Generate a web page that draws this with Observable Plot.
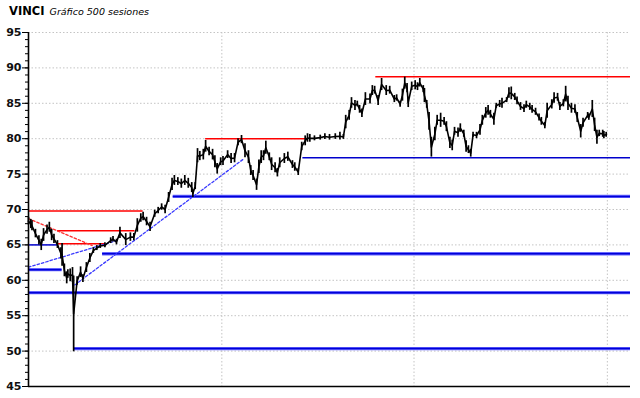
<!DOCTYPE html>
<html>
<head>
<meta charset="utf-8">
<script src="https://cdn.jsdelivr.net/npm/d3@7"></script>
<script src="https://cdn.jsdelivr.net/npm/@observablehq/plot@0.6"></script>
<style>
  html, body { margin: 0; padding: 0; background: #fff; }
  #wrap { position: relative; width: 640px; height: 398px; }
  #title { position: absolute; left: 9px; top: 4px; line-height: 12px; font-family: "DejaVu Sans", sans-serif; color: #000; white-space: nowrap; }
  #title b { font-size: 11.5px; font-weight: bold; }
  #title i { font-size: 9.5px; font-style: italic; margin-left: 5px; }
</style>
</head>
<body>
<div id="wrap"><div id="title"><b>VINCI</b><i>Gráfico 500 sesiones</i></div></div>
<script>
// Sampled sessions (day index, 0..499) with low / high prices
const sessions = [
  0,2,3,6,9,11,13,16,18,20,
  22,25,28,29,31,33,34,36,38,39,
  42,45,47,50,53,56,59,62,66,71,
  73,76,79,84,88,91,94,97,99,102,
  105,109,112,115,118,121,124,126,129,132,
  135,138,141,142,144,146,148,151,153,156,
  159,161,163,166,168,172,175,178,181,184,
  187,190,192,194,197,199,201,203,205,208,
  210,213,215,217,221,224,228,230,233,236,
  239,241,243,247,252,256,260,265,269,272,
  274,277,279,282,284,286,288,291,295,297,
  299,302,305,309,312,316,318,321,323,325,
  327,328,331,334,336,338,341,342,344,346,
  348,351,353,356,359,361,364,366,368,371,
  373,376,378,380,382,384,387,390,392,395,
  397,399,402,404,407,409,413,415,417,420,
  422,425,428,430,433,435,438,441,443,446,
  448,452,454,457,459,462,464,466,469,472,
  474,477,479,483,484,487,489,491,493,496,
  497,499
];
const lows = [
  67.8,67.3,67.0,66.0,65.0,64.2,65.5,66.5,66.8,65.6,
  65.2,64.5,63.0,62.0,60.5,59.5,60.3,59.8,59.7,49.9,
  59.3,60.4,59.7,61.1,62.5,63.8,64.2,64.5,64.6,65.2,
  65.4,65.0,65.9,64.9,65.5,65.6,66.8,68.2,68.4,67.7,
  66.9,68.9,69.4,69.9,69.4,71.0,72.7,73.4,73.4,73.0,
  73.4,73.0,72.4,71.7,72.8,76.6,76.9,77.0,78.1,77.6,
  77.0,75.9,75.0,76.2,76.2,77.2,76.5,76.6,79.0,79.3,
  77.3,76.5,74.8,74.1,72.7,75.1,76.5,76.9,77.8,76.9,
  75.5,75.2,74.6,75.9,76.5,76.8,75.8,75.4,74.8,78.3,
  79.0,79.5,79.5,79.7,79.8,79.9,79.8,79.9,79.8,79.9,
  81.4,82.6,84.3,84.0,84.5,83.6,83.0,84.7,84.9,86.1,
  86.3,84.7,86.8,86.1,86.3,85.1,85.3,84.45,85.3,87.0,
  86.5,84.4,86.8,86.9,86.8,87.3,86.5,85.1,84.3,81.2,
  77.4,79.7,81.9,81.6,81.9,81.0,78.6,78.3,80.5,80.2,
  80.9,80.2,78.1,77.9,77.4,80.2,80.0,80.5,81.9,82.9,
  83.3,82.9,81.9,84.3,84.4,84.3,85.1,85.7,85.5,85.4,
  84.8,84.0,83.7,84.3,84.0,83.6,83.3,82.5,81.9,81.4,
  82.9,84.2,85.0,85.3,84.0,84.5,85.2,84.0,83.6,83.6,
  82.3,80.1,81.6,82.9,82.6,83.0,81.0,79.2,80.3,80.2,
  80.0,80.2
];
const highs = [
  68.9,68.6,68.4,67.2,66.3,65.8,67.3,67.8,68.2,67.2,
  66.5,65.6,64.6,65.2,62.3,61.2,61.5,61.6,61.8,60.6,
  60.5,61.9,60.8,62.5,63.8,64.6,64.9,65.2,65.3,66.0,
  66.2,65.8,67.5,66.6,66.7,66.6,68.7,69.4,69.6,68.9,
  68.2,69.9,70.3,70.8,70.6,72.4,74.4,74.8,74.5,74.3,
  74.8,74.4,73.8,72.8,73.8,78.6,78.2,78.5,79.75,78.8,
  78.5,77.6,76.5,77.3,77.5,78.3,77.9,77.9,80.0,80.45,
  79.3,78.3,76.2,75.5,74.3,77.0,78.3,78.3,79.65,78.0,
  77.3,76.6,75.8,77.3,77.9,78.1,76.9,76.6,75.8,79.5,
  80.4,80.7,80.6,80.4,80.5,80.7,80.6,80.7,80.9,80.6,
  83.3,84.0,85.8,85.4,85.3,84.7,84.2,86.5,86.3,87.5,
  87.4,86.1,88.5,87.5,87.4,86.1,86.2,85.3,87.0,88.7,
  87.8,85.8,88.0,88.2,87.9,88.5,87.5,87.1,85.4,83.7,
  80.2,81.6,83.3,83.6,83.0,82.4,80.2,79.8,81.6,81.5,
  82.1,81.2,79.7,79.0,78.5,80.9,80.9,82.0,83.3,84.4,
  84.7,84.0,83.6,85.0,85.4,85.7,85.8,87.2,87.3,86.4,
  85.9,85.1,84.8,85.3,85.0,84.7,84.3,83.5,83.0,82.3,
  85.0,85.5,86.5,86.4,85.1,85.5,87.4,86.0,85.0,84.8,
  83.7,82.0,82.9,83.7,83.5,85.4,82.9,81.2,81.2,81.2,
  81.0,80.9
];

// Resistance levels (red)
const redFrom  = [0, 25, 25, 153, 300];
const redTo    = [99, 92, 66, 241, 520];
const redPrice = [69.8, 67.0, 65.15, 80.0, 88.75];
// Thin support levels (blue)
const thinFrom  = [0, 237];
const thinTo    = [25, 520];
const thinPrice = [65.0, 77.3];
// Strong support levels (thick blue)
const thickFrom  = [0, 0, 64, 125, 39];
const thickTo    = [29, 520, 520, 520, 520];
const thickPrice = [61.5, 58.25, 63.75, 71.85, 50.35];
// Trend lines: [session, price] endpoints
const redTrend   = [[0, 68.7], [55, 64.9]];
const blueTrend1 = [[0, 61.85], [78, 65.7]];
const blueTrend2 = [[40, 59.35], [186, 77.16]];

const yMajor = [45, 50, 55, 60, 65, 70, 75, 80, 85, 90, 95];
const yMinor = d3.range(45, 96, 1);
const gridY = [50, 55, 60, 65, 70, 75, 80, 85, 90, 95];
const gridX = [167, 333, 500];

const bars = sessions.map((s, i) => ({s, lo: lows[i], hi: highs[i]}));
const idx = a => d3.range(a.length);

const chart = Plot.plot({
  width: 640,
  height: 398,
  marginTop: 32,
  marginBottom: 12,
  marginLeft: 28,
  marginRight: 10,
  style: {fontFamily: "DejaVu Sans, sans-serif", background: "#fff"},
  x: {domain: [0, 520], axis: null},
  y: {domain: [45, 95], axis: null},
  marks: [
    Plot.ruleY(gridY, {stroke: "#c4c4c4", strokeDasharray: "1.5,2"}),
    Plot.ruleX(gridX, {stroke: "#c4c4c4", strokeDasharray: "1.5,2"}),
    // thick blue supports
    Plot.ruleY(idx(thickPrice), {y: i => thickPrice[i], x1: i => thickFrom[i], x2: i => thickTo[i], stroke: "#6666ff", strokeWidth: 3.3}),
    Plot.ruleY(idx(thickPrice), {y: i => thickPrice[i], x1: i => thickFrom[i], x2: i => thickTo[i], stroke: "#0000d8", strokeWidth: 1.5}),
    // thin blue
    Plot.ruleY(idx(thinPrice), {y: i => thinPrice[i], x1: i => thinFrom[i], x2: i => thinTo[i], stroke: "#0000cc", strokeWidth: 1.5}),
    // red resistances
    Plot.ruleY(idx(redPrice), {y: i => redPrice[i], x1: i => redFrom[i], x2: i => redTo[i], stroke: "#ff0000", strokeWidth: 1.5}),
    // trend lines
    Plot.line(redTrend, {x: d => d[0], y: d => d[1], stroke: "#ff3030", strokeWidth: 1.3, strokeDasharray: "2.5,2"}),
    Plot.line(blueTrend1, {x: d => d[0], y: d => d[1], stroke: "#3a3aff", strokeWidth: 1.3, strokeDasharray: "2.5,2"}),
    Plot.line(blueTrend2, {x: d => d[0], y: d => d[1], stroke: "#3a3aff", strokeWidth: 1.3, strokeDasharray: "2.5,2"}),
    // price bars
    Plot.ruleX(bars, {x: "s", y1: "lo", y2: "hi", stroke: "#000", strokeWidth: 1.7}),
    Plot.line(bars, {x: "s", y: d => (d.lo + d.hi) / 2, stroke: "#000", strokeWidth: 1.6}),
    // axes
    Plot.axisY({ticks: yMinor, tickSize: 3, tickFormat: () => "", stroke: "#000"}),
    Plot.axisY({ticks: yMajor, tickSize: 6, tickPadding: 1, fontSize: 11, fontWeight: "bold", fill: "#111", stroke: "#000"}),
    Plot.ruleX([0], {stroke: "#000", strokeWidth: 1.6}),
    Plot.ruleY([45], {stroke: "#000", strokeWidth: 1.6})
  ]
});
document.getElementById("wrap").prepend(chart);
</script>
</body>
</html>
